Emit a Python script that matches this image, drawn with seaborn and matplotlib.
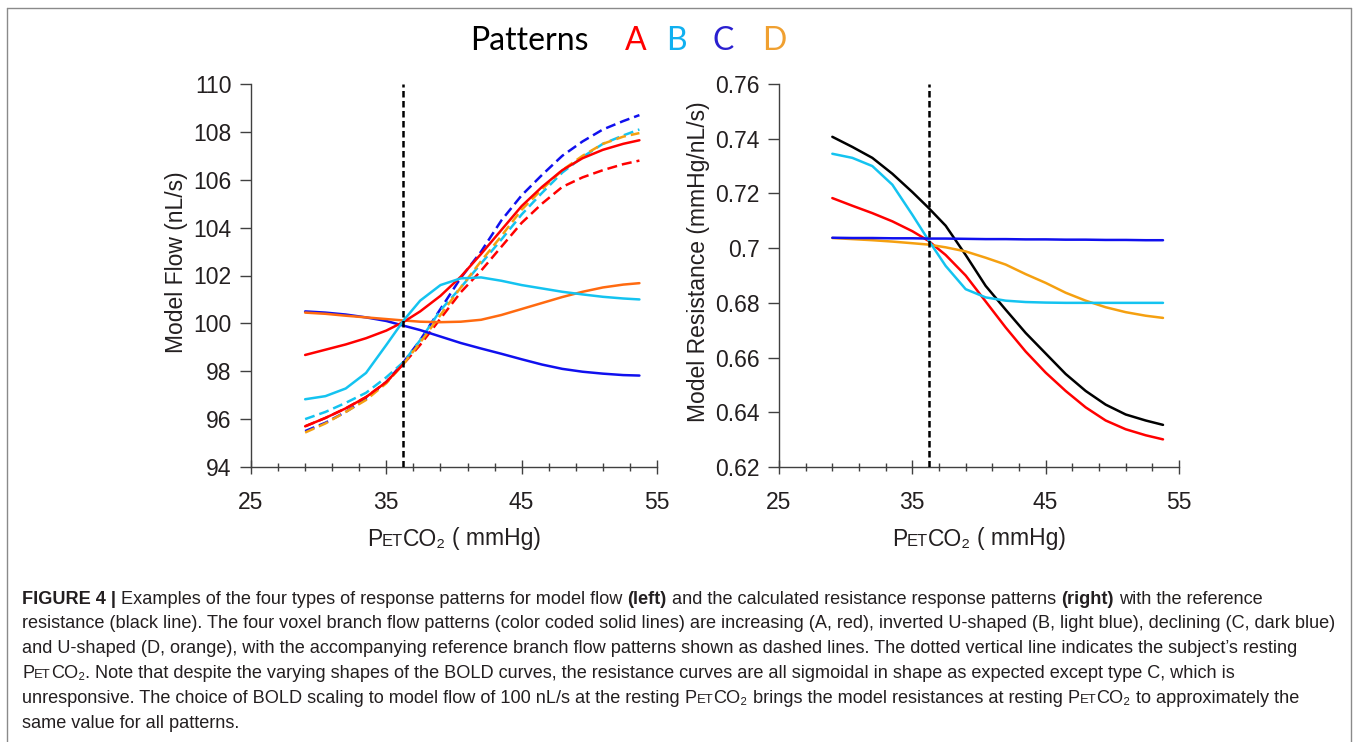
import matplotlib
matplotlib.use("Agg")
import matplotlib.pyplot as plt
import seaborn as sns
import numpy as np
from matplotlib.offsetbox import TextArea, HPacker, AnnotationBbox
from matplotlib.ticker import FixedLocator, FuncFormatter
from matplotlib.lines import Line2D

# ---- data ----
flow_x = [29, 30.5, 32, 33.5, 35, 36.3, 37.5, 39, 40.5, 42, 43.5, 45, 46.5, 48, 49.5, 51, 52.5, 53.7]
flow_a = [98.68, 98.9, 99.12, 99.38, 99.7, 100.07, 100.5, 101.15, 101.95, 102.9, 103.9, 104.9, 105.7, 106.4, 106.9, 107.25, 107.5, 107.65]
flow_a_ref = [95.7, 96.05, 96.45, 96.92, 97.55, 98.33, 99.1, 100.2, 101.3, 102.2, 103.2, 104.2, 105.0, 105.7, 106.1, 106.4, 106.65, 106.8]
flow_b = [96.83, 96.96, 97.28, 97.93, 99.1, 100.14, 100.95, 101.6, 101.88, 101.92, 101.78, 101.6, 101.46, 101.32, 101.21, 101.11, 101.04, 101.0]
flow_b_ref = [96.0, 96.3, 96.68, 97.1, 97.75, 98.4, 99.3, 100.55, 101.5, 102.5, 103.5, 104.55, 105.45, 106.3, 106.95, 107.5, 107.85, 108.1]
flow_c = [100.5, 100.45, 100.37, 100.25, 100.1, 99.9, 99.72, 99.45, 99.18, 98.95, 98.73, 98.5, 98.28, 98.1, 97.98, 97.9, 97.84, 97.82]
flow_c_ref = [95.5, 95.85, 96.3, 96.85, 97.55, 98.4, 99.3, 100.6, 101.9, 103.0, 104.3, 105.35, 106.2, 107.0, 107.6, 108.1, 108.45, 108.7]
flow_d = [100.45, 100.4, 100.32, 100.25, 100.18, 100.12, 100.07, 100.05, 100.07, 100.15, 100.35, 100.6, 100.85, 101.1, 101.32, 101.5, 101.62, 101.68]
flow_d_ref = [95.44, 95.82, 96.3, 96.8, 97.5, 98.33, 99.2, 100.35, 101.5, 102.6, 103.65, 104.75, 105.6, 106.4, 107.0, 107.5, 107.8, 107.95]

res_x = [29, 30.5, 32, 33.5, 35, 36.2, 37.5, 39, 40.5, 42, 43.5, 45, 46.5, 48, 49.5, 51, 52.5, 53.8]
res_ref = [0.7407, 0.7370, 0.7330, 0.7272, 0.7205, 0.7148, 0.7082, 0.6975, 0.6862, 0.6775, 0.6690, 0.6615, 0.6540, 0.6478, 0.6428, 0.6392, 0.6370, 0.6354]
res_a = [0.7183, 0.7155, 0.7128, 0.7098, 0.7062, 0.7027, 0.6975, 0.6900, 0.6805, 0.6710, 0.6622, 0.6545, 0.6478, 0.6418, 0.6370, 0.6338, 0.6316, 0.6301]
res_b = [0.7345, 0.7330, 0.7300, 0.7232, 0.7122, 0.7030, 0.6935, 0.6850, 0.6820, 0.6808, 0.6803, 0.6801, 0.6800, 0.6800, 0.6800, 0.6800, 0.6800, 0.6800]
res_c = [0.7038, 0.7037, 0.7037, 0.7036, 0.7036, 0.7035, 0.7035, 0.7034, 0.7033, 0.7033, 0.7032, 0.7032, 0.7031, 0.7031, 0.7030, 0.7030, 0.7029, 0.7029]
res_d = [0.7037, 0.7033, 0.7029, 0.7024, 0.7018, 0.7013, 0.7003, 0.6988, 0.6965, 0.6940, 0.6905, 0.6873, 0.6837, 0.6808, 0.6784, 0.6766, 0.6753, 0.6745]

resting_petco2 = 36.25
pattern_names = ["A", "B", "C", "D"]

RED = "#ff0000"
CYAN = "#14c3f0"
BLUE = "#1010ee"
ORANGE = "#ff6a10"
AMBER = "#f5a010"
TXT = "#231f20"
title_colors = [RED, "#10b0f0", "#2a1fd0", "#f0a030"]
FAM = ["Liberation Sans", "DejaVu Sans"]

sns.set_theme(style="white")
plt.rcParams["font.family"] = FAM

fig = plt.figure(figsize=(13.57, 7.42), dpi=100)
W, H = 1357, 742

def fx(px):
    return px / W

def fy(py):
    return 1 - py / H

ax1 = fig.add_axes([fx(251), fy(467), fx(657) - fx(251), fy(84) - fy(467)])
ax2 = fig.add_axes([fx(779), fy(467), fx(1179) - fx(779), fy(84) - fy(467)])

LW = 1.8
DASH = (0, (4, 2))
FS = 16.5

# left: flow
for y, c in [(flow_a_ref, RED), (flow_c_ref, BLUE), (flow_b_ref, CYAN), (flow_d_ref, AMBER)]:
    sns.lineplot(x=flow_x, y=y, ax=ax1, color=c, lw=LW, linestyle=DASH)
# the low end of the red reference is drawn solid in the original
sns.lineplot(x=flow_x[:6], y=flow_a_ref[:6], ax=ax1, color=RED, lw=LW)
for y, c in [(flow_c, BLUE), (flow_d, ORANGE), (flow_a, RED), (flow_b, CYAN)]:
    sns.lineplot(x=flow_x, y=y, ax=ax1, color=c, lw=LW)

# right: resistance
for y, c in [(res_ref, "black"), (res_a, RED), (res_d, AMBER), (res_b, CYAN), (res_c, BLUE)]:
    sns.lineplot(x=res_x, y=y, ax=ax2, color=c, lw=LW)

for ax in (ax1, ax2):
    ax.axvline(resting_petco2, color="black", lw=1.8, linestyle=(0, (2.6, 1.4)), zorder=5)
    ax.set_xlim(25, 55)
    ax.set_xticks([25, 35, 45, 55])
    ax.xaxis.set_minor_locator(FixedLocator(np.arange(25, 56, 2)))
    for s in ("top", "right"):
        ax.spines[s].set_visible(False)
    for s in ("left", "bottom"):
        ax.spines[s].set_color("#404040")
        ax.spines[s].set_linewidth(1.0)
    ax.tick_params(axis="x", which="major", direction="inout", length=10, width=1.0,
                   color="#404040", labelsize=FS, labelcolor=TXT, pad=12, bottom=True)
    ax.tick_params(axis="x", which="minor", direction="inout", length=6, width=1.0,
                   color="#404040", bottom=True)
    ax.tick_params(axis="y", which="major", direction="out", length=8, width=1.0,
                   color="#404040", labelsize=FS, labelcolor=TXT, pad=6, left=True)
    ax.grid(False)

ax1.set_ylim(94, 110)
ax1.set_yticks(np.arange(94, 111, 2))
ax1.set_ylabel("Model Flow (nL/s)", fontsize=FS, color=TXT)
ax1.yaxis.set_label_coords(-0.155, 0.535)

ax2.set_ylim(0.62, 0.76)
ax2.set_yticks(np.arange(0.62, 0.7601, 0.02))
ax2.yaxis.set_major_formatter(FuncFormatter(lambda v, p: f"{round(v, 2):g}"))
ax2.set_ylabel("Model Resistance (mmHg/nL/s)", fontsize=FS, color=TXT)
ax2.yaxis.set_label_coords(-0.172, 0.535)


def rich(pieces, size, sep):
    boxes = []
    for part in pieces:
        if isinstance(part, list):
            boxes.append(rich(part, size, 0))
            continue
        txt, scale, weight = part
        boxes.append(TextArea(txt, textprops=dict(fontsize=size * scale, fontweight=weight,
                                                  color=TXT, family=FAM)))
    return HPacker(children=boxes, align="baseline", pad=0, sep=sep)


def petco2(tail="CO\u2082"):
    return [("P", 1, "normal"), ("ET", 0.72, "normal"), (tail, 1, "normal")]


# x labels
for cx in (454, 979):
    lab = rich([petco2(), ("( mmHg)", 1, "normal")], FS, FS * 0.278)
    fig.add_artist(AnnotationBbox(lab, (fx(cx), fy(539)), xycoords="figure fraction",
                                  box_alignment=(0.5, 0.5), frameon=False, pad=0))

# title
fig.text(fx(470), fy(50), "Patterns", fontsize=23, family=["Lato", "DejaVu Sans"], color="black")
for name, col, px in zip(pattern_names, title_colors, [625, 666, 712, 762]):
    fig.text(fx(px), fy(50), name, fontsize=23, family=["Lato", "DejaVu Sans"], color=col)

# caption
CS = 13.1
sp = CS * 0.278
n = "normal"
b = "bold"
caption_lines = [
    [("FIGURE 4 |", 1, b), ("Examples of the four types of response patterns for model flow", 1, n),
     ("(left)", 1, b), ("and the calculated resistance response patterns", 1, n),
     ("(right)", 1, b), ("with the reference", 1, n)],
    [("resistance (black line). The four voxel branch flow patterns (color coded solid lines) are "
      "increasing (A, red), inverted U-shaped (B, light blue), declining (C, dark blue)", 1, n)],
    [("and U-shaped (D, orange), with the accompanying reference branch flow patterns shown as "
      "dashed lines. The dotted vertical line indicates the subject\u2019s resting", 1, n)],
    [petco2("CO\u2082."), ("Note that despite the varying shapes of the BOLD curves, the resistance "
                          "curves are all sigmoidal in shape as expected except type C, which is", 1, n)],
    [("unresponsive. The choice of BOLD scaling to model flow of 100 nL/s at the resting", 1, n),
     petco2(), ("brings the model resistances at resting", 1, n), petco2(),
     ("to approximately the", 1, n)],
    [("same value for all patterns.", 1, n)],
]
for i, line in enumerate(caption_lines):
    box = rich(line, CS, sp)
    fig.add_artist(AnnotationBbox(box, (fx(22), fy(599 + 24.8 * i)), xycoords="figure fraction",
                                  box_alignment=(0, 0.5), frameon=False, pad=0))

# figure frame
for xs, ys in [([7, 7], [742, 8]), ([7, 1351], [8, 8]), ([1351, 1351], [8, 742])]:
    fig.add_artist(Line2D([fx(v) for v in xs], [fy(v) for v in ys], color="#8a8a8a", lw=1.0))

fig.savefig("out.png", dpi=100)
